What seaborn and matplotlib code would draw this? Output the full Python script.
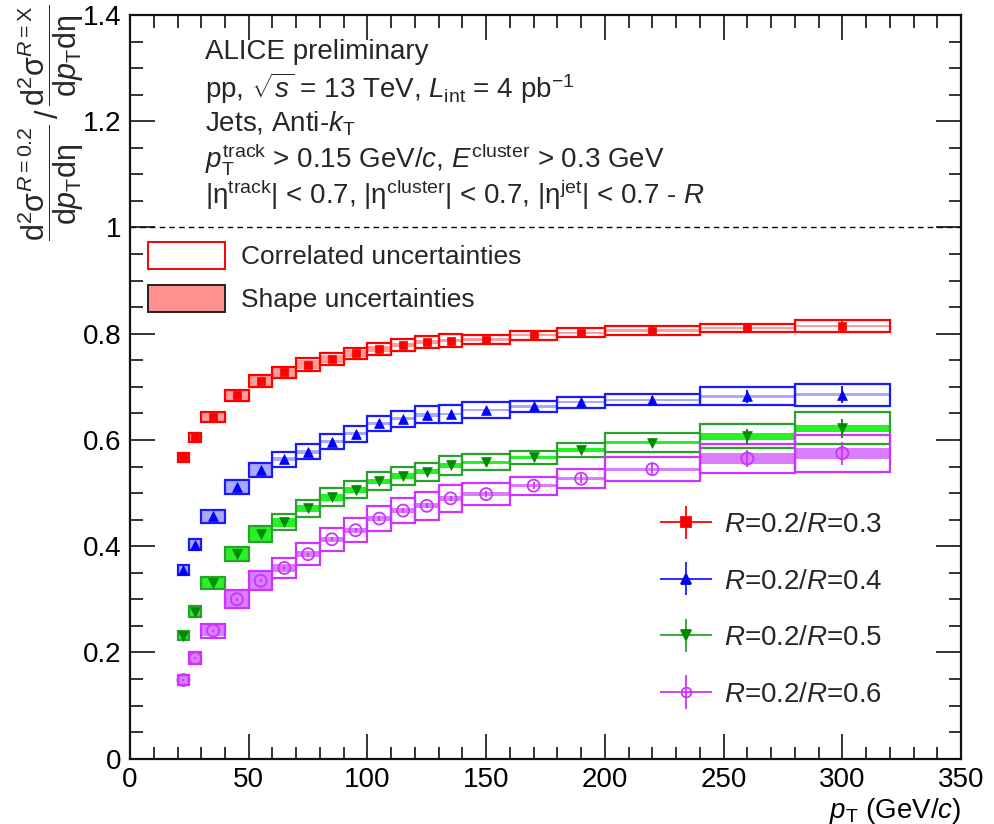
import numpy as np
import pandas as pd
import seaborn as sns
import matplotlib.pyplot as plt
from matplotlib.patches import Rectangle, Patch
from matplotlib.container import ErrorbarContainer
from matplotlib.legend_handler import HandlerErrorbar
from matplotlib.ticker import MultipleLocator

# pT bins (GeV/c)
pt_edges = [20, 25, 30, 40, 50, 60, 70, 80, 90, 100, 110, 120, 130, 140, 160, 180, 200, 240, 280, 320]

# ratio values R=0.2 / R=X
ratio_03 = [0.567, 0.605, 0.643, 0.684, 0.711, 0.727, 0.742, 0.752, 0.763, 0.771, 0.779, 0.784, 0.787, 0.789, 0.797, 0.802, 0.806, 0.811, 0.815]
ratio_04 = [0.355, 0.403, 0.456, 0.511, 0.543, 0.564, 0.578, 0.597, 0.612, 0.631, 0.640, 0.647, 0.649, 0.656, 0.663, 0.671, 0.676, 0.682, 0.685]
ratio_05 = [0.231, 0.277, 0.331, 0.386, 0.423, 0.445, 0.471, 0.492, 0.506, 0.522, 0.532, 0.540, 0.552, 0.558, 0.567, 0.581, 0.595, 0.607, 0.622]
ratio_06 = [0.148, 0.189, 0.241, 0.300, 0.335, 0.359, 0.385, 0.413, 0.430, 0.452, 0.467, 0.476, 0.490, 0.498, 0.514, 0.527, 0.545, 0.565, 0.575]

# correlated uncertainties (half height)
corr_03 = [0.0085, 0.009, 0.009, 0.010, 0.011, 0.011, 0.012, 0.011, 0.011, 0.011, 0.011, 0.011, 0.012, 0.009, 0.009, 0.008, 0.009, 0.008, 0.011]
corr_04 = [0.009, 0.011, 0.012, 0.0135, 0.0135, 0.014, 0.014, 0.014, 0.015, 0.015, 0.015, 0.016, 0.017, 0.015, 0.011, 0.010, 0.011, 0.017, 0.021]
corr_05 = [0.0085, 0.0095, 0.011, 0.013, 0.0145, 0.015, 0.016, 0.017, 0.016, 0.017, 0.017, 0.017, 0.018, 0.015, 0.013, 0.014, 0.018, 0.023, 0.030]
corr_06 = [0.009, 0.011, 0.013, 0.017, 0.018, 0.019, 0.021, 0.022, 0.023, 0.024, 0.023, 0.026, 0.026, 0.021, 0.017, 0.018, 0.023, 0.028, 0.035]

# shape uncertainties (half height)
shape_03 = [0.008, 0.008, 0.008, 0.009, 0.009, 0.009, 0.009, 0.008, 0.006, 0.005, 0.004, 0.004, 0.003, 0.002, 0.002, 0.002, 0.002, 0.002, 0.002]
shape_04 = [0.008, 0.010, 0.011, 0.012, 0.012, 0.004, 0.004, 0.003, 0.003, 0.003, 0.003, 0.003, 0.002, 0.002, 0.002, 0.002, 0.002, 0.003, 0.003]
shape_05 = [0.007, 0.008, 0.010, 0.012, 0.013, 0.008, 0.006, 0.006, 0.006, 0.005, 0.005, 0.005, 0.004, 0.003, 0.003, 0.003, 0.003, 0.007, 0.007]
shape_06 = [0.007, 0.009, 0.010, 0.015, 0.016, 0.008, 0.006, 0.005, 0.005, 0.005, 0.005, 0.005, 0.005, 0.004, 0.003, 0.003, 0.003, 0.010, 0.010]

# statistical uncertainties
stat_03 = [0.002, 0.002, 0.002, 0.002, 0.002, 0.002, 0.002, 0.003, 0.003, 0.003, 0.003, 0.003, 0.004, 0.004, 0.004, 0.005, 0.006, 0.010, 0.013]
stat_04 = [0.002, 0.002, 0.002, 0.002, 0.002, 0.002, 0.003, 0.003, 0.003, 0.003, 0.004, 0.004, 0.004, 0.005, 0.005, 0.006, 0.007, 0.012, 0.016]
stat_05 = [0.002, 0.002, 0.002, 0.002, 0.002, 0.003, 0.003, 0.003, 0.003, 0.004, 0.004, 0.004, 0.005, 0.005, 0.006, 0.007, 0.008, 0.014, 0.018]
stat_06 = [0.002, 0.002, 0.002, 0.003, 0.003, 0.003, 0.003, 0.004, 0.004, 0.004, 0.005, 0.005, 0.005, 0.006, 0.007, 0.008, 0.009, 0.016, 0.022]

labels = [r'$R$=0.2/$R$=0.3', r'$R$=0.2/$R$=0.4', r'$R$=0.2/$R$=0.5', r'$R$=0.2/$R$=0.6']

sns.set_theme(style='ticks')
plt.rcParams['font.family'] = ['Liberation Sans', 'DejaVu Sans']
plt.rcParams['mathtext.fontset'] = 'custom'
plt.rcParams['mathtext.rm'] = 'Liberation Sans'
plt.rcParams['mathtext.it'] = 'Liberation Sans:italic'
plt.rcParams['mathtext.bf'] = 'Liberation Sans:bold'

edges = np.array(pt_edges, dtype=float)
lo, hi = edges[:-1], edges[1:]
centers = (lo + hi) / 2

series = [
    dict(y=ratio_03, corr=corr_03, shape=shape_03, stat=stat_03, line='#ff0000', fill='#ff8c8c', mk='#ff0000', marker='s', s=38, open=False),
    dict(y=ratio_04, corr=corr_04, shape=shape_04, stat=stat_04, line='#1a1aff', fill='#9a9aff', mk='#0000ff', marker='^', s=50, open=False),
    dict(y=ratio_05, corr=corr_05, shape=shape_05, stat=stat_05, line='#2ca02c', fill='#00f000', mk='#008a00', marker='v', s=50, open=False),
    dict(y=ratio_06, corr=corr_06, shape=shape_06, stat=stat_06, line='#cc33ff', fill='#d466ff', mk='#cc33ff', marker='o', s=75, open=True),
]

fig = plt.figure(figsize=(9.94, 8.24), dpi=100)
ax = fig.add_axes([0.1308, 0.0793, 0.836, 0.9025])

for sr in series:
    y = np.array(sr['y'])
    for i in range(len(centers)):
        ax.add_patch(Rectangle((lo[i], y[i] - sr['shape'][i]), hi[i] - lo[i], 2 * sr['shape'][i],
                               facecolor=sr['fill'], edgecolor='none', alpha=0.85, zorder=1))
        ax.add_patch(Rectangle((lo[i], y[i] - sr['corr'][i]), hi[i] - lo[i], 2 * sr['corr'][i],
                               facecolor='none', edgecolor=sr['line'], lw=1.6, zorder=2))
    ax.errorbar(centers, y, yerr=sr['stat'], fmt='none', ecolor=sr['mk'], elinewidth=1.3, zorder=3)
    df = pd.DataFrame({'pt': centers, 'ratio': y})
    if sr['open']:
        sns.scatterplot(data=df, x='pt', y='ratio', marker=sr['marker'], s=sr['s'],
                        facecolor='none', edgecolor=sr['mk'], linewidth=1.3, zorder=4, ax=ax)
    else:
        sns.scatterplot(data=df, x='pt', y='ratio', marker=sr['marker'], s=sr['s'],
                        color=sr['mk'], edgecolor=sr['mk'], linewidth=0.5, zorder=4, ax=ax)

ax.axhline(1.0, color='black', ls=(0, (4, 3)), lw=1.0, zorder=0)

ax.set_xlim(0, 350)
ax.set_ylim(0, 1.4)
ax.xaxis.set_major_locator(MultipleLocator(50))
ax.xaxis.set_minor_locator(MultipleLocator(10))
ax.yaxis.set_major_locator(MultipleLocator(0.2))
ax.yaxis.set_minor_locator(MultipleLocator(0.05))
ax.set_yticks([0, 0.2, 0.4, 0.6, 0.8, 1.0, 1.2, 1.4])
ax.set_yticklabels(['0', '0.2', '0.4', '0.6', '0.8', '1', '1.2', '1.4'])
ax.tick_params(which='both', direction='in', top=True, right=True, labelsize=20, width=1.2,
               color='#111111', labelcolor='black')
ax.tick_params(which='major', length=18)
ax.tick_params(which='minor', length=9)
ax.tick_params(axis='x', pad=6)
ax.tick_params(axis='y', pad=6)
for sp in ax.spines.values():
    sp.set_linewidth(1.6)
    sp.set_color('#111111')

ax.set_xlabel(r'$p_{\mathrm{T}}$ (GeV/$c$)', fontsize=20, loc='right', labelpad=2, color='black')
ax.set_ylabel('')
fig.text(0.051, 0.995,
         r'$\dfrac{\mathrm{d}^{2}\mathrm{\sigma}^{R=0.2}}{\mathrm{d}p_{\mathrm{T}}\mathrm{d\eta}}\,/\,'
         r'\dfrac{\mathrm{d}^{2}\mathrm{\sigma}^{R=\mathrm{X}}}{\mathrm{d}p_{\mathrm{T}}\mathrm{d\eta}}$',
         rotation=90, ha='center', va='top', fontsize=22)

header = ['ALICE preliminary',
          r'pp, $\sqrt{s}$ = 13 TeV, $L_{\mathrm{int}}$ = 4 pb$^{-1}$',
          r'Jets, Anti-$k_{\mathrm{T}}$',
          r'$p_{\mathrm{T}}^{\mathrm{track}}$ > 0.15 GeV/$c$, $E^{\mathrm{cluster}}$ > 0.3 GeV',
          r'|η$^{\mathrm{track}}$| < 0.7, |η$^{\mathrm{cluster}}$| < 0.7, |η$^{\mathrm{jet}}$| < 0.7 - $R$']
for k, line in enumerate(header):
    fig.text(205 / 994, 1 - (52 + 35.8 * k) / 824, line, fontsize=20, ha='left', va='center')

# uncertainty legend
unc_handles = [Patch(facecolor='white', edgecolor='#ff0000', lw=1.4, label='Correlated uncertainties'),
               Patch(facecolor='#ff9090', edgecolor='#222222', lw=1.4, label='Shape uncertainties')]
leg1 = fig.legend(handles=unc_handles, loc='upper left', bbox_to_anchor=(148 / 994, 1 - 242 / 824),
                  frameon=False, fontsize=19, handlelength=2.9, handleheight=1.2,
                  handletextpad=0.62, labelspacing=0.58, borderpad=0, borderaxespad=0)

# marker legend
proxies = []
for sr, lab in zip(series, labels):
    h = ax.errorbar([np.nan], [np.nan], xerr=[1], yerr=[1], fmt=sr['marker'], color=sr['line'],
                    mfc='none' if sr['open'] else sr['mk'], mec=sr['mk'], ms=7, elinewidth=1.3,
                    mew=1.3, label=lab)
    proxies.append(h)
leg2 = fig.legend(handles=proxies, loc='upper left', bbox_to_anchor=(660 / 994, 1 - 512 / 824),
                  frameon=False, fontsize=20, handlelength=1.87, handletextpad=0.45,
                  labelspacing=1.1, borderpad=0, borderaxespad=0,
                  handler_map={ErrorbarContainer: HandlerErrorbar(xerr_size=0.93, yerr_size=0.6)})

fig.savefig('out.png', dpi=100)
